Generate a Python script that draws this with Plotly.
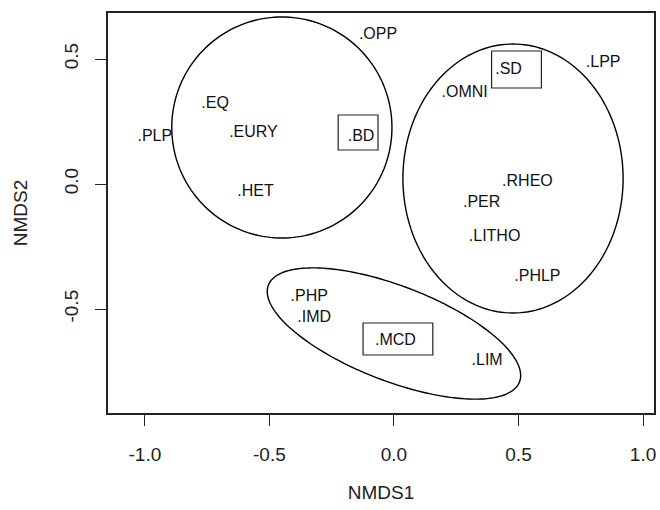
import numpy as np
import plotly.graph_objects as go

# Point labels and their NMDS coordinates (label centres)
labels = ["OPP", "EQ", "EURY", "PLP", "HET", "BD", "SD", "OMNI", "LPP",
          "RHEO", "PER", "LITHO", "PHLP", "PHP", "IMD", "MCD", "LIM"]
nmds1 = [-0.064, -0.718, -0.564, -0.960, -0.556, -0.132, 0.460, 0.284, 0.840,
         0.536, 0.352, 0.404, 0.576, -0.340, -0.320, 0.006, 0.374]
nmds2 = [0.596, 0.320, 0.204, 0.188, -0.032, 0.188, 0.456, 0.364, 0.484,
         0.008, -0.076, -0.212, -0.372, -0.452, -0.536, -0.628, -0.708]

# Group ellipses: centre x, centre y, semi-axis a, semi-axis b, angle (deg)
ell_cx = [-0.450, 0.478, 0.000]
ell_cy = [0.226, 0.022, -0.598]
ell_a = [0.442, 0.442, 0.540]
ell_b = [0.442, 0.538, 0.190]
ell_ang = [0.0, 0.0, -21.0]

# Boxes around highlighted labels: x0, x1, y0, y1
box_x0 = [-0.224, 0.392, -0.124]
box_x1 = [-0.064, 0.592, 0.156]
box_y0 = [0.136, 0.384, -0.684]
box_y1 = [0.276, 0.532, -0.556]

xticks = [-1.0, -0.5, 0.0, 0.5, 1.0]
yticks = [-0.5, 0.0, 0.5]

FONT = "Liberation Sans, Arial, sans-serif"

fig = go.Figure()
fig.add_trace(go.Scatter(
    x=nmds1, y=nmds2, mode="text",
    text=["." + s for s in labels],
    textposition="middle center",
    textfont=dict(family=FONT, size=16, color="#111"),
    hoverinfo="skip", showlegend=False,
))

shapes = []
t = np.linspace(0, 2 * np.pi, 181)
for cx, cy, a, b, ang in zip(ell_cx, ell_cy, ell_a, ell_b, ell_ang):
    th = np.deg2rad(ang)
    px = cx + a * np.cos(t) * np.cos(th) - b * np.sin(t) * np.sin(th)
    py = cy + a * np.cos(t) * np.sin(th) + b * np.sin(t) * np.cos(th)
    path = "M " + " L ".join(f"{u:.5f},{v:.5f}" for u, v in zip(px, py)) + " Z"
    shapes.append(dict(type="path", path=path, xref="x", yref="y",
                       line=dict(color="black", width=1.4)))
for x0, x1, y0, y1 in zip(box_x0, box_x1, box_y0, box_y1):
    shapes.append(dict(type="rect", x0=x0, x1=x1, y0=y0, y1=y1, xref="x", yref="y",
                       line=dict(color="#222", width=1.2)))

fig.update_layout(
    width=660, height=510,
    margin=dict(l=108, r=4, t=13, b=97),
    paper_bgcolor="white", plot_bgcolor="white",
    shapes=shapes,
    font=dict(family=FONT, color="#222"),
    xaxis=dict(range=[-1.148, 1.044], tickvals=xticks,
               ticktext=[f"{v:.1f}" for v in xticks],
               ticks="outside", ticklen=11, tickwidth=1.3, tickcolor="#222",
               showline=True, linecolor="#222", linewidth=1.5, mirror=True,
               showgrid=False, zeroline=False,
               tickfont=dict(size=19, family=FONT, color="#222"),
               ticklabelstandoff=12,
               title=dict(text="NMDS1", font=dict(size=19, family=FONT, color="#222"), standoff=22)),
    yaxis=dict(range=[-0.916, 0.684], tickvals=yticks,
               ticktext=[f"{v:.1f}" for v in yticks],
               ticks="outside", ticklen=11, tickwidth=1.3, tickcolor="#222",
               showline=True, linecolor="#222", linewidth=1.5, mirror=True,
               showgrid=False, zeroline=False, tickangle=-90,
               tickfont=dict(size=19, family=FONT, color="#222"),
               ticklabelstandoff=10,
               title=dict(text="NMDS2", font=dict(size=19, family=FONT, color="#222"), standoff=28)),
)

fig.write_html("out.html")
